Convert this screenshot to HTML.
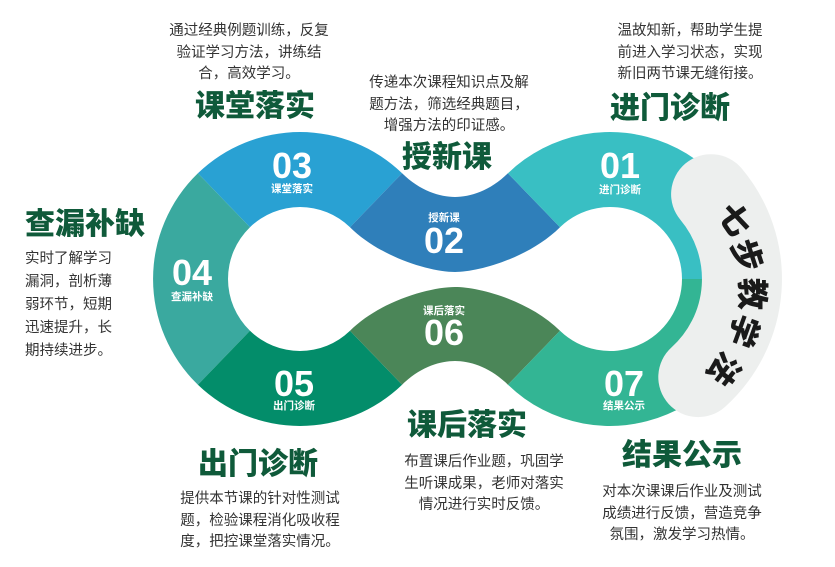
<!DOCTYPE html>
<html><head><meta charset="utf-8"><style>
html,body{margin:0;padding:0;background:#fff;}
svg{display:block;}
.p{font-family:"Liberation Sans","Noto Sans CJK SC",sans-serif;font-size:14.5px;fill:#333;}
.t{font-family:"Liberation Sans","Noto Sans CJK SC",sans-serif;font-size:30px;font-weight:900;fill:#0f5a3a;}
.n{font-family:"Liberation Sans","Noto Sans CJK SC",sans-serif;font-size:36px;font-weight:bold;fill:#fff;}
.l{font-family:"Liberation Sans","Noto Sans CJK SC",sans-serif;font-size:10.5px;font-weight:bold;fill:#fff;}
.k{font-family:"Liberation Sans","Noto Sans CJK SC",sans-serif;font-size:32px;font-weight:900;fill:#1a1a1a;}
</style></head><body>
<svg width="835" height="567" viewBox="0 0 835 567" xmlns="http://www.w3.org/2000/svg">
<path d="M197.9,173.3 A147,147 0 0 1 402.1,173.3 L350,227.2 A72,72 0 0 0 250,227.2 Z" fill="#29a1d3"/>
<path d="M197.9,384.7 A147,147 0 0 1 197.9,173.3 L250,227.2 A72,72 0 0 0 250,330.8 Z" fill="#3aa99f"/>
<path d="M402.1,384.7 A147,147 0 0 1 197.9,384.7 L250,330.8 A72,72 0 0 0 350,330.8 Z" fill="#038d6a"/>
<path d="M402.1,173.3 C420,191 440,197 455,197 C470,197 490,191 507.9,173.3 L560,227.2 C530,257 480,272 455,272 C430,272 380,257 350,227.2 Z" fill="#2f7fba"/>
<path d="M350,330.8 C380,301 430,287 455,287 C480,287 530,301 560,330.8 L507.9,384.7 C490,367 470,361 455,361 C440,361 420,367 402.1,384.7 Z" fill="#4b8658"/>
<path d="M507.9,173.3 A147,147 0 0 1 757,279 L682,279 A72,72 0 0 0 560,227.2 Z" fill="#39bfc3"/>
<path d="M757,279 A147,147 0 0 1 507.9,384.7 L560,330.8 A72,72 0 0 0 682,279 Z" fill="#33b594"/>
<path d="M711.1,194.2 A132,132 0 0 1 698.3,377.1" fill="none" stroke="#edefee" stroke-width="80" stroke-linecap="round"/>
<text class="k" text-anchor="middle" transform="translate(725,226) rotate(55)">七</text>
<text class="k" text-anchor="middle" transform="translate(736,259) rotate(72)">步</text>
<text class="k" text-anchor="middle" transform="translate(741,294) rotate(90)">教</text>
<text class="k" text-anchor="middle" transform="translate(733,327) rotate(110)">学</text>
<text class="k" text-anchor="middle" transform="translate(715,362) rotate(128)">法</text>
<text class="n" x="292" y="178" text-anchor="middle">03</text>
<text class="l" x="292" y="192" text-anchor="middle">课堂落实</text>
<text class="n" x="620" y="178" text-anchor="middle">01</text>
<text class="l" x="620" y="193" text-anchor="middle">进门诊断</text>
<text class="l" x="444" y="221" text-anchor="middle">授新课</text>
<text class="n" x="444" y="253" text-anchor="middle">02</text>
<text class="n" x="192" y="285" text-anchor="middle">04</text>
<text class="l" x="192" y="300" text-anchor="middle">查漏补缺</text>
<text class="l" x="444" y="314" text-anchor="middle">课后落实</text>
<text class="n" x="444" y="345" text-anchor="middle">06</text>
<text class="n" x="294" y="396" text-anchor="middle">05</text>
<text class="l" x="294" y="409" text-anchor="middle">出门诊断</text>
<text class="n" x="624" y="396" text-anchor="middle">07</text>
<text class="l" x="624" y="409" text-anchor="middle">结果公示</text>
<text class="t" x="255" y="116" text-anchor="middle">课堂落实</text>
<text class="t" x="447" y="167" text-anchor="middle">授新课</text>
<text class="t" x="670" y="118" text-anchor="middle">进门诊断</text>
<text class="t" x="85" y="234" text-anchor="middle">查漏补缺</text>
<text class="t" x="258" y="474" text-anchor="middle">出门诊断</text>
<text class="t" x="467" y="435" text-anchor="middle">课后落实</text>
<text class="t" x="682" y="465" text-anchor="middle">结果公示</text>
<g class="p" text-anchor="middle">
<text x="249" y="35">通过经典例题训练，反复</text>
<text x="249" y="57">验证学习方法，讲练结</text>
<text x="249" y="78">合，高效学习。</text>
<text x="449" y="87">传递本次课程知识点及解</text>
<text x="449" y="109">题方法，筛选经典题目，</text>
<text x="449" y="130">增强方法的印证感。</text>
<text x="690" y="35">温故知新，帮助学生提</text>
<text x="690" y="57">前进入学习状态，实现</text>
<text x="690" y="78">新旧两节课无缝衔接。</text>
<text x="260" y="503">提供本节课的针对性测试</text>
<text x="260" y="525">题，检验课程消化吸收程</text>
<text x="260" y="546">度，把控课堂落实情况。</text>
<text x="484" y="466">布置课后作业题，巩固学</text>
<text x="484" y="488">生听课成果，老师对落实</text>
<text x="484" y="509">情况进行实时反馈。</text>
<text x="682" y="496">对本次课课后作业及测试</text>
<text x="682" y="518">成绩进行反馈，营造竞争</text>
<text x="682" y="539">氛围，激发学习热情。</text>
</g>
<g class="p">
<text x="25" y="263">实时了解学习</text>
<text x="25" y="286">漏洞，剖析薄</text>
<text x="25" y="309">弱环节，短期</text>
<text x="25" y="332">迅速提升，长</text>
<text x="25" y="355">期持续进步。</text>
</g>
</svg>
</body></html>
